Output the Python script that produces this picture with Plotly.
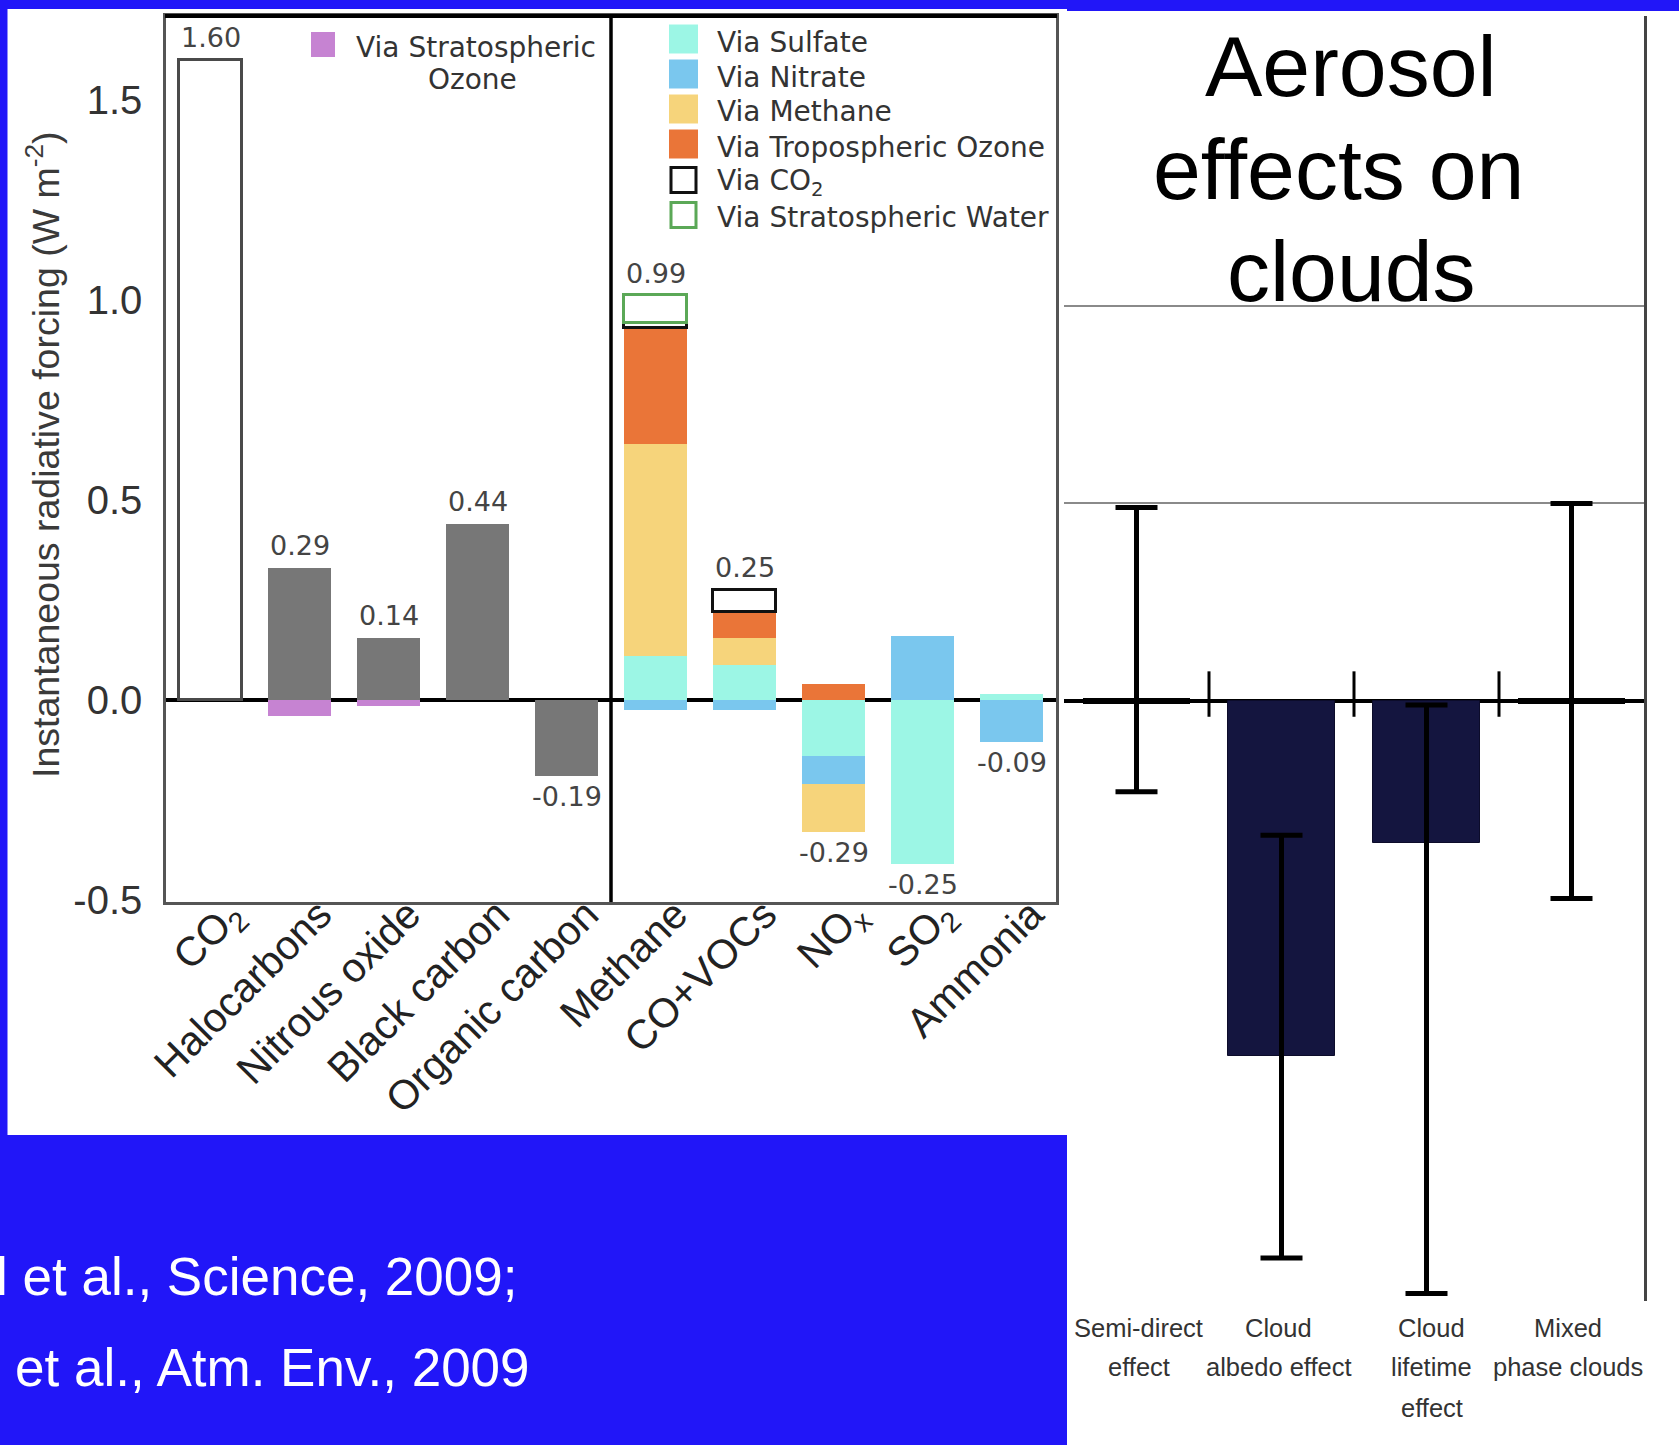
import plotly.graph_objects as go

FIG_W, FIG_H = 1679, 1445
BLUE = "#2116F8"


def fx(p):
    """pixel column -> paper x"""
    return p / FIG_W


def fy(p):
    """pixel row (from top) -> paper y"""
    return 1 - p / FIG_H


# ---------------- Left panel: forcing by emitted species (W m-2) ----------------
species = ["CO<sub>2</sub>", "Halocarbons", "Nitrous oxide", "Black carbon", "Organic carbon",
           "Methane", "CO+VOCs", "NO<sub>x</sub>", "SO<sub>2</sub>", "Ammonia"]
N = None
co2_direct      = [1.60, N, N, N, N, N, N, N, N, N]
direct          = [N, 0.33, 0.155, 0.44, -0.19, N, N, N, N, N]
via_strat_ozone = [N, -0.04, -0.015, N, N, N, N, N, N, N]
via_sulfate     = [N, N, N, N, N, 0.11, 0.088, -0.14, -0.41, 0.015]
via_nitrate     = [N, N, N, N, N, -0.025, -0.025, -0.07, 0.16, -0.105]
via_methane     = [N, N, N, N, N, 0.53, 0.067, -0.12, N, N]
via_trop_ozone  = [N, N, N, N, N, 0.29, 0.064, 0.04, N, N]
via_co2         = [N, N, N, N, N, 0.012, 0.056, N, N, N]
via_strat_water = [N, N, N, N, N, 0.07, N, N, N, N]

left_ticks = [-0.5, 0.0, 0.5, 1.0, 1.5]
left_ticktext = ["-0.5", "0.0", "0.5", "1.0", "1.5"]

# ---------------- Right panel: aerosol effects on clouds ----------------
cloud_effects = [["Semi-direct", "effect"], ["Cloud", "albedo effect"],
                 ["Cloud", "lifetime", "effect"], ["Mixed", "phase clouds"]]
cloud_forcing = [0.0, -0.90, -0.36, 0.0]
cloud_err_up = [0.49, 0.56, 0.35, 0.50]
cloud_err_down = [0.23, 0.51, 1.14, 0.50]
cloud_gridlines = [0.5, 1.0]

# (name, values, fill, outline, outline width)
series = [
    ("CO2", co2_direct, "white", "#4a4a4a", 3),
    ("Direct", direct, "#777777", "#777777", 0),
    ("Via Stratospheric Ozone", via_strat_ozone, "#C683D2", "#C683D2", 0),
    ("Via Sulfate", via_sulfate, "#9CF6E5", "#9CF6E5", 0),
    ("Via Nitrate", via_nitrate, "#7AC7EE", "#7AC7EE", 0),
    ("Via Methane", via_methane, "#F6D47B", "#F6D47B", 0),
    ("Via Tropospheric Ozone", via_trop_ozone, "#EA7538", "#EA7538", 0),
    ("Via CO<sub>2</sub>", via_co2, "white", "#111111", 3),
    ("Via Stratospheric Water", via_strat_water, "white", "#5BA857", 3),
]

fig = go.Figure()
x_left = list(range(len(species)))
for name, vals, fill, edge, lw in series:
    fig.add_trace(go.Bar(
        x=x_left, y=vals, name=name, width=0.71,
        marker=dict(color=fill, line=dict(color=edge, width=lw)),
        xaxis="x", yaxis="y", showlegend=False, hoverinfo="skip",
    ))

fig.add_trace(go.Bar(
    x=list(range(len(cloud_effects))), y=cloud_forcing, width=0.735,
    marker=dict(color="#14153F",
                line=dict(color=["black", "#0c0c2a", "#0c0c2a", "black"], width=[6, 1, 1, 6])),
    error_y=dict(type="data", symmetric=False, array=cloud_err_up, arrayminus=cloud_err_down,
                 color="black", thickness=5, width=21),
    xaxis="x2", yaxis="y2", showlegend=False, hoverinfo="skip",
))

annotations = []
shapes = []

# white panels on the blue slide
shapes.append(dict(type="rect", xref="paper", yref="paper", x0=fx(7.5), x1=fx(1067), y0=fy(1135), y1=fy(9),
                   fillcolor="white", line=dict(width=0), layer="below"))
shapes.append(dict(type="rect", xref="paper", yref="paper", x0=fx(1067), x1=fx(1679), y0=fy(1445), y1=fy(11),
                   fillcolor="white", line=dict(width=0), layer="below"))

# heavy top rule and the divider between the two groups of species
shapes.append(dict(type="line", xref="paper", yref="paper", x0=fx(165), x1=fx(1057), y0=fy(16), y1=fy(16),
                   line=dict(color="black", width=4)))
shapes.append(dict(type="line", xref="x", yref="paper", x0=4.5, x1=4.5, y0=fy(902), y1=fy(16),
                   line=dict(color="black", width=3.5)))

# net value labels above / below each stack
for i in range(len(species)):
    vals = [s[1][i] for s in series if s[1][i] is not None]
    pos = sum(v for v in vals if v > 0)
    neg = sum(v for v in vals if v < 0)
    net = pos + neg
    if net >= 0:
        y, shift = pos, 22
    else:
        y, shift = neg, -21
    annotations.append(dict(x=i, y=y, xref="x", yref="y", text=f"{net:.2f}", showarrow=False,
                            yanchor="middle", yshift=shift,
                            font=dict(family="DejaVu Sans", size=27, color="#444444")))

# legend: stratospheric ozone (left group)
legend_font = dict(family="DejaVu Sans", size=28, color="#333333")
shapes.append(dict(type="rect", xref="paper", yref="paper", x0=fx(311), x1=fx(335), y0=fy(57), y1=fy(32),
                   fillcolor=series[2][2], line=dict(width=0)))
annotations.append(dict(x=fx(354), y=fy(47), xref="paper", yref="paper", xanchor="left", yanchor="middle",
                        text="Via Stratospheric", showarrow=False, font=legend_font))
annotations.append(dict(x=fx(472), y=fy(80), xref="paper", yref="paper", xanchor="center", yanchor="middle",
                        text="Ozone", showarrow=False, font=legend_font))

# legend: indirect pathways (right group)
rows = [39, 74, 109, 144, 180, 215]
for (name, _, fill, edge, lw), yc in zip(series[3:], rows):
    if lw:
        shapes.append(dict(type="rect", xref="paper", yref="paper", x0=fx(671), x1=fx(696),
                           y0=fy(yc + 12.5), y1=fy(yc - 12.5), fillcolor="white",
                           line=dict(color=edge, width=3)))
    else:
        shapes.append(dict(type="rect", xref="paper", yref="paper", x0=fx(669), x1=fx(698),
                           y0=fy(yc + 14.5), y1=fy(yc - 14.5), fillcolor=fill, line=dict(width=0)))
    annotations.append(dict(x=fx(715), y=fy(yc + 3), xref="paper", yref="paper", xanchor="left",
                            yanchor="middle", text=name, showarrow=False, font=legend_font))

# y-axis title
annotations.append(dict(x=fx(43), y=fy(455), xref="paper", yref="paper", xanchor="center", yanchor="middle",
                        text="Instantaneous radiative forcing (W m<sup>-2</sup>)", textangle=-90, showarrow=False,
                        font=dict(family="Liberation Sans, Arial", size=37.5, color="#3a3a3a")))

# right panel title
title_font = dict(family="Liberation Sans, Arial", size=86, color="black")
for line, xc, yc in zip(["Aerosol", "effects on", "clouds"], [1351, 1338, 1351], [66, 169, 271]):
    annotations.append(dict(x=fx(xc), y=fy(yc), xref="paper", yref="paper", xanchor="center",
                            yanchor="middle", text=line, showarrow=False, font=title_font))

# category separators on the zero line
for xb in [0.5, 1.5, 2.5]:
    shapes.append(dict(type="line", xref="x2", yref="y2", x0=xb, x1=xb, y0=-0.04, y1=0.075,
                       line=dict(color="black", width=3)))

# category names under the right panel, one line at a time
line_rows = [1328, 1367, 1408]
label_dx = [2, -3, 5, -4]
for i, lines in enumerate(cloud_effects):
    for text, yc in zip(lines, line_rows):
        annotations.append(dict(x=i, y=fy(yc), xref="x2", yref="paper", xanchor="center", yanchor="middle",
                                xshift=label_dx[i], text=text, showarrow=False, borderpad=0,
                                font=dict(family="Liberation Sans, Arial", size=25.5, color="#333333")))

# references on the blue band
ref_font = dict(family="Liberation Sans, Arial", size=53, color="white")
annotations.append(dict(x=fx(-5), y=fy(1276), xref="paper", yref="paper", xanchor="left", yanchor="middle",
                        text="l et al., Science, 2009;", showarrow=False, borderpad=0, font=ref_font))
annotations.append(dict(x=fx(14), y=fy(1367), xref="paper", yref="paper", xanchor="left", yanchor="middle",
                        text="et al., Atm. Env., 2009", showarrow=False, borderpad=0, font=ref_font))

fig.update_layout(
    width=FIG_W, height=FIG_H,
    margin=dict(l=0, r=0, t=0, b=0, pad=0),
    paper_bgcolor=BLUE, plot_bgcolor="rgba(0,0,0,0)",
    barmode="relative", bargap=0, showlegend=False, hovermode=False,
    xaxis=dict(domain=[fx(166), fx(1056)], range=[-0.5, 9.5], tickvals=x_left, ticktext=species,
               tickangle=-45, ticks="", ticklabelstandoff=-31, ticklabelshift=20,
               tickfont=dict(family="Liberation Sans, Arial", size=41, color="#222222"),
               showline=True, mirror=True, linecolor="#555555", linewidth=3,
               showgrid=False, zeroline=False, automargin=False, fixedrange=True, anchor="y"),
    yaxis=dict(domain=[fy(902), fy(16)], range=[-0.505, 1.71], tickvals=left_ticks, ticktext=left_ticktext,
               ticks="", ticklabelstandoff=13,
               tickfont=dict(family="Liberation Sans, Arial", size=40, color="#333333"),
               showline=True, mirror=True, linecolor="#555555", linewidth=2.5,
               showgrid=False, zeroline=True, zerolinecolor="black", zerolinewidth=3.5,
               automargin=False, fixedrange=True, anchor="x"),
    xaxis2=dict(domain=[fx(1064), fx(1644)], range=[-0.5, 3.5], showticklabels=False, ticks="",
                showline=False, showgrid=False, zeroline=False, automargin=False, fixedrange=True, anchor="y2"),
    yaxis2=dict(domain=[fy(1301), fy(16)], range=[-1.519, 1.734], side="right", tickvals=cloud_gridlines,
                showticklabels=False, ticks="", showline=True, linecolor="#444444", linewidth=3,
                showgrid=True, gridcolor="#8a8a8a", gridwidth=2,
                zeroline=True, zerolinecolor="black", zerolinewidth=4,
                automargin=False, fixedrange=True, anchor="x2"),
    annotations=annotations,
    shapes=shapes,
)

fig.write_html("out.html")
